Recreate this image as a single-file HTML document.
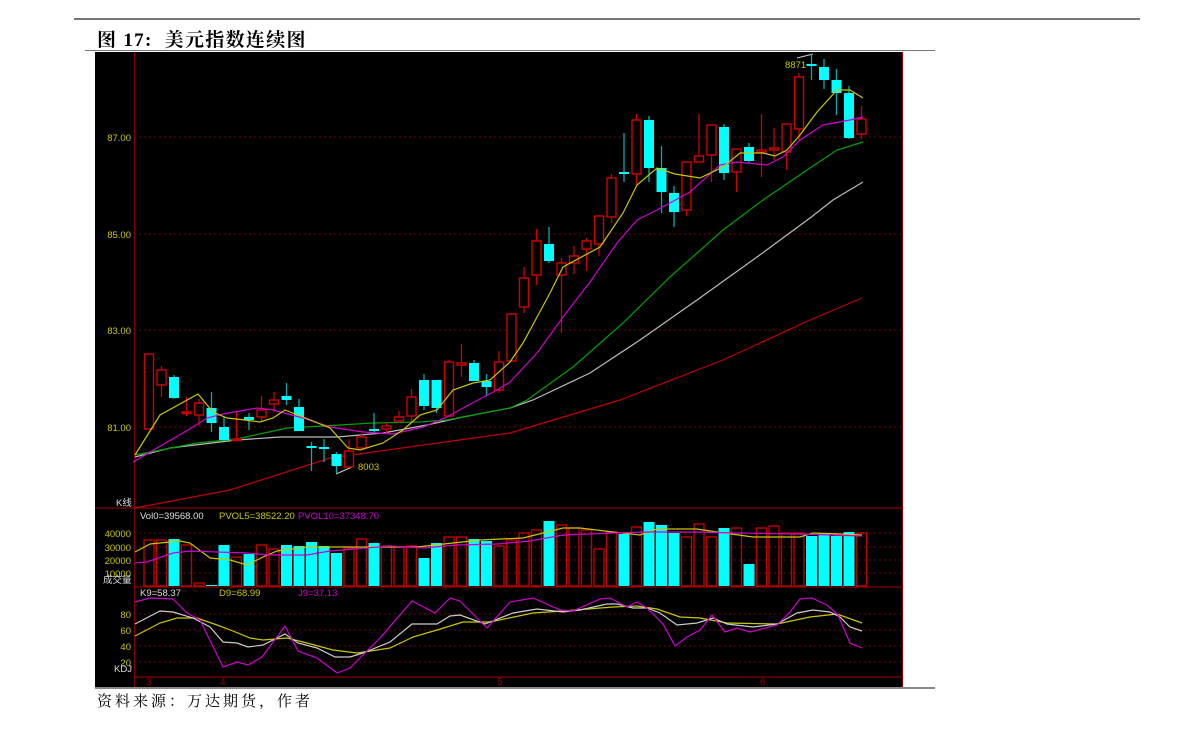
<!DOCTYPE html>
<html><head><meta charset="utf-8">
<style>
body{margin:0;background:#fff;width:1191px;height:729px;overflow:hidden;position:relative;font-family:"Liberation Sans",sans-serif}
.t{position:absolute;font-family:"Liberation Serif","Noto Serif CJK SC",serif;color:#000}
</style></head><body>
<div style="position:absolute;left:74px;top:18px;width:1066px;height:2px;background:#777"></div>
<div class="t" style="left:97px;top:25px;font-size:19px;font-weight:bold;letter-spacing:1.3px">图 17:&nbsp;&nbsp;美元指数连续图</div>
<div style="position:absolute;left:85px;top:50px;width:850px;height:1px;background:#777"></div>
<div style="position:absolute;left:95px;top:687px;width:840px;height:2px;background:#888"></div>
<div class="t" style="left:97px;top:690px;font-size:15px;letter-spacing:3px;font-family:'Noto Serif CJK SC',serif">资料来源：万达期货，作者</div>
<svg id="s" width="1191" height="729" style="position:absolute;left:0;top:0" xmlns="http://www.w3.org/2000/svg" font-family="Liberation Sans, sans-serif" font-size="9.5">
<rect x="95" y="52" width="808" height="635" fill="#000"/>
<g stroke="#700" stroke-width="1" stroke-dasharray="2,3">
<line x1="134" y1="137" x2="903" y2="137"/><line x1="134" y1="234" x2="903" y2="234"/><line x1="134" y1="330" x2="903" y2="330"/><line x1="134" y1="427" x2="903" y2="427"/>
<line x1="134" y1="533" x2="903" y2="533"/><line x1="134" y1="547" x2="903" y2="547"/><line x1="134" y1="560" x2="903" y2="560"/><line x1="134" y1="573" x2="903" y2="573"/>
<line x1="134" y1="614" x2="903" y2="614"/><line x1="134" y1="630" x2="903" y2="630"/><line x1="134" y1="646" x2="903" y2="646"/><line x1="134" y1="662" x2="903" y2="662"/>
</g>
<g stroke="#800" stroke-width="1.2">
<line x1="134.5" y1="52" x2="134.5" y2="687"/>
<line x1="95" y1="508" x2="903" y2="508"/><line x1="134" y1="587" x2="903" y2="587"/><line x1="134" y1="677" x2="903" y2="677"/>
<line x1="902.5" y1="52" x2="902.5" y2="687"/>
</g>
<g fill="#c8c800" text-anchor="end">
<text x="131" y="141">87.00</text><text x="131" y="238">85.00</text><text x="131" y="334">83.00</text><text x="131" y="431">81.00</text>
<text x="131" y="537">40000</text><text x="131" y="551">30000</text><text x="131" y="564">20000</text><text x="131" y="577">10000</text>
<text x="131" y="618">80</text><text x="131" y="634">60</text><text x="131" y="650">40</text><text x="131" y="666">20</text>
</g>
<g fill="#ddd">
<text x="116" y="506">K线</text><text x="103" y="583" font-family="Noto Sans CJK SC,sans-serif">成交量</text><text x="114" y="672">KDJ</text>
<text x="140" y="519">Vol0=39568.00</text><text x="140" y="596">K9=58.37</text>
</g>
<text x="219" y="519" fill="#c8c800">PVOL5=38522.20</text><text x="298" y="519" fill="#d000d0">PVOL10=37348.70</text>
<text x="219" y="596" fill="#c8c800">D9=68.99</text><text x="298" y="596" fill="#d000d0">J9=37.13</text>
<g fill="#900" font-size="10"><text x="146" y="685">3</text><text x="220" y="685">4</text><text x="497" y="685">5</text><text x="760" y="685">6</text></g>
<text x="358" y="470" fill="#c8c800">8003</text><line x1="336" y1="474" x2="352" y2="467" stroke="#ccc"/>
<text x="785" y="68" fill="#c8c800">8871</text><line x1="797" y1="58" x2="813" y2="54" stroke="#ccc"/>
<g id="c"></g>
</svg>
<script>
var C=[[354,429,354,429,'r'],[370,385,366,397,'r'],[377,398,375,399,'c'],[412,413,397,416,'r'],[403,415,399,426,'r'],[408,423,392,432,'c'],[427,440,417,441,'c'],[439,440,412,440,'r'],[417,420,413,430,'c'],[410,417,396,422,'r'],[400,404,392,412,'r'],[396,400,383,405,'c'],[407,431,399,431,'c'],[446,448,442,471,'c'],[447,449,439,462,'c'],[454,466,452,473,'c'],[451,467,439,467,'r'],[437,448,433,450,'r'],[429,431,413,433,'c'],[426,429,423,433,'r'],[417,421,411,423,'r'],[397,416,389,423,'r'],[380,406,374,410,'c'],[380,408,380,413,'c'],[362,416,360,416,'r'],[363,365,344,377,'r'],[363,381,360,381,'c'],[381,387,374,396,'c'],[362,390,351,393,'r'],[314,361,313,362,'r'],[278,307,267,313,'r'],[241,275,229,285,'r'],[244,261,227,263,'c'],[263,275,258,333,'r'],[256,263,246,274,'r'],[241,249,238,271,'r'],[216,244,215,256,'r'],[178,217,174,223,'r'],[172,174,133,182,'c'],[120,174,114,185,'r'],[120,168,116,182,'c'],[168,192,146,213,'c'],[193,212,186,227,'c'],[162,210,162,216,'r'],[156,162,114,162,'r'],[125,155,125,182,'r'],[127,173,124,180,'c'],[149,172,149,192,'r'],[147,161,143,163,'c'],[150,152,114,177,'r'],[148,150,128,160,'r'],[124,152,124,170,'r'],[77,129,73,140,'r'],[64,66,54,80,'c'],[67,80,59,89,'c'],[80,93,69,115,'c'],[93,138,86,139,'c'],[119,134,106,139,'r']];
var V=[540,540,539,545,583,585,545,557,554,545,549,545,546,542,546,553,548,539,543,546,547,546,558,543,537,537,539,541,546,540,533,530,521,525,528,530,549,532,534,527,522,525,533,537,524,537,528,528,564,528,526,533,533,536,533,536,532,533];
var g=document.getElementById('c'),h='';
function pl(p,c,w){h+='<polyline fill="none" stroke="'+c+'" stroke-width="'+(w||1.2)+'" points="'+p+'"/>';}
pl("135,508 230,490 330,458 510,433 620,400 723,360 810,320 862,298","#c00000");
pl("135,457 170,448 237,440 280,437 337,437 383,433 427,425 463,417 510,408 533,400 590,373 640,340 697,300 757,257 810,218 833,200 863,182","#bbb");
pl("135,455 197,443 237,439 287,428 323,426 373,423 420,422 447,420 510,408 527,400 573,367 623,323 670,277 723,230 763,200 810,168 837,150 863,142","#00a000");
for(var i=0;i<C.length;i++){var d=C[i],x=149+12.5*i,r=d[4]=='r';
h+='<line x1="'+x+'" y1="'+d[2]+'" x2="'+x+'" y2="'+d[3]+'" stroke="'+(r?'#d00000':'#00b0b0')+'" stroke-width="1.3"/>';
var bh=Math.max(d[1]-d[0],1.5);
if(r)h+='<rect x="'+(x-4.5)+'" y="'+d[0]+'" width="9" height="'+bh+'" fill="#000" stroke="#d00000" stroke-width="1.4"/>';
else h+='<rect x="'+(x-5)+'" y="'+d[0]+'" width="10" height="'+bh+'" fill="#00ffff"/>';
var vt=V[i];
if(r)h+='<rect x="'+(x-5)+'" y="'+vt+'" width="10" height="'+(586-vt)+'" fill="none" stroke="#c00000" stroke-width="1.4"/>';
else h+='<rect x="'+(x-5.5)+'" y="'+vt+'" width="11" height="'+(586-vt)+'" fill="#00ffff"/>';}
pl("133,462 157,448 188,430 207,418 223,414 257,408 273,410 303,418 330,427 363,432 393,434 423,427 447,417 463,408 497,390 510,382 537,353 563,317 590,282 617,243 637,220 657,210 690,192 720,165 737,162 767,165 783,157 800,140 823,125 850,120 863,117","#d000d0");
pl("135,455 160,415 198,394 213,412 227,418 245,420 260,422 273,418 285,410 303,417 330,428 348,448 360,450 383,443 403,430 420,415 437,410 453,390 473,383 490,380 510,362 523,343 550,293 563,267 600,247 623,213 637,185 657,168 675,174 700,178 723,167 740,153 763,153 775,156 787,150 800,135 817,112 837,90 850,90 863,98","#c8c800");
pl("135,552 150,544 180,541 190,543 210,558 230,560 247,565 263,557 277,551 307,547 390,547 417,547 480,540 523,538 563,528 580,528 613,532 640,535 657,529 697,529 717,532 753,537 800,537 813,533 840,534 862,535","#c8c800");
pl("135,563 147,562 173,553 190,551 217,552 247,553 270,555 307,555 330,551 390,546 423,548 457,545 497,544 530,541 563,535 613,533 647,532 700,532 733,533 800,534 862,536","#d000d0");
pl("135,636 160,623 177,618 197,618 217,625 233,631 250,638 263,640 287,638 307,643 333,650 357,653 390,648 413,637 437,630 463,622 490,622 533,613 563,611 613,607 637,606 657,609 680,617 700,618 727,623 777,624 810,617 837,614 862,623","#c8c800");
pl("135,624 160,611 173,612 193,618 210,627 223,642 237,643 248,647 263,645 285,634 298,643 317,648 335,657 350,657 363,653 390,642 412,624 437,624 450,616 460,615 485,624 513,613 537,609 563,612 580,610 607,604 617,604 633,608 647,608 660,613 677,625 697,623 713,618 727,624 753,627 777,624 797,613 813,610 830,612 840,617 850,627 862,631","#ccc");
pl("135,602 150,598 173,599 187,613 200,620 223,667 237,662 248,665 262,657 285,626 298,651 317,658 337,673 350,668 380,638 412,601 435,613 450,598 460,601 487,628 510,602 533,598 560,610 573,611 600,599 610,598 627,607 637,602 647,608 663,624 675,646 687,637 700,630 712,615 725,632 737,628 750,632 777,625 790,612 800,599 812,598 827,605 838,615 850,643 862,648","#d000d0");
g.innerHTML=h;
</script>
</body></html>
